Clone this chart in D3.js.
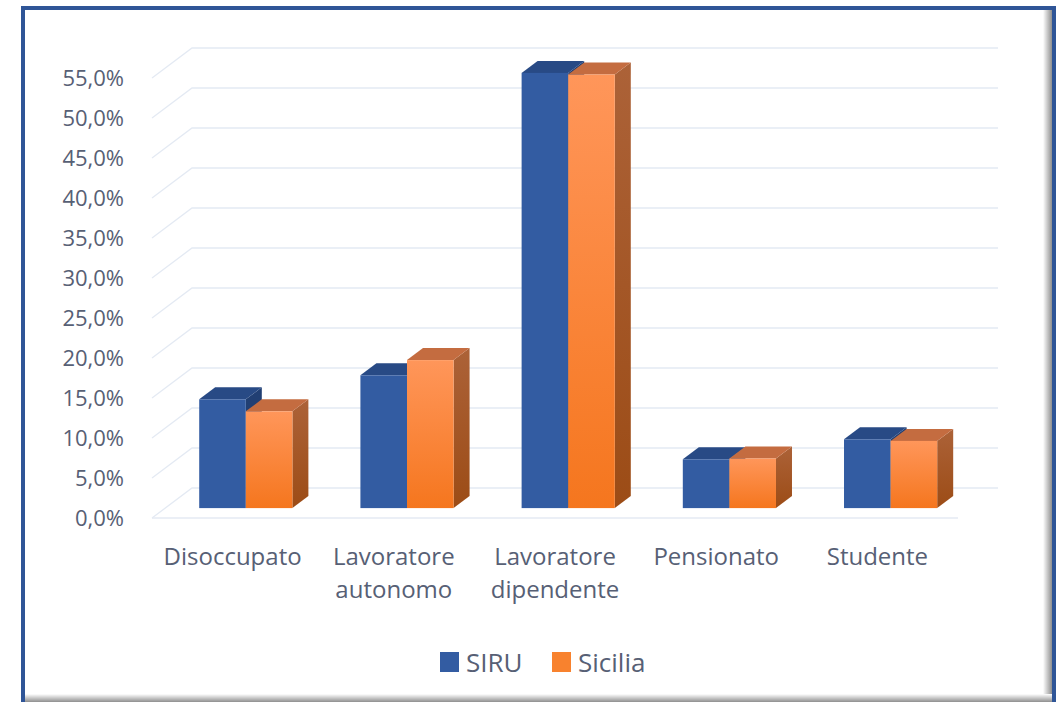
<!DOCTYPE html>
<html>
<head>
<meta charset="utf-8">
<script src="https://cdn.jsdelivr.net/npm/d3@7"></script>
<style>
  html, body { margin: 0; padding: 0; background: #fff; }
  svg { display: block; }
  text { font-family: "Open Sans", sans-serif; fill: #576075; }
</style>
</head>
<body>
<div class="chart-wrapper"></div>
<script>
// categories and series values (percent)
const categories = [['Disoccupato'], ['Lavoratore', 'autonomo'], ['Lavoratore', 'dipendente'], ['Pensionato'], ['Studente']];
const seriesNames = ['SIRU', 'Sicilia'];
const siruValues = [13.6, 16.6, 54.4, 6.1, 8.6];
const siciliaValues = [12.1, 18.5, 54.2, 6.2, 8.4];
const yTicks = [0, 5, 10, 15, 20, 25, 30, 35, 40, 45, 50, 55];

const width = 1056, height = 702;

// depth projection: full depth moves right and up
const depthX = 40, depthY = -30;
const barFront = 0.33, barBack = 0.73;

const it = d3.formatLocale({decimal: ',', thousands: '.', grouping: [3], currency: ['€', '']});
const fmt = it.format('.1f');

const svg = d3.select('.chart-wrapper')
    .append('svg')
    .attr('width', width)
    .attr('height', height);

const defs = svg.append('defs');
const gFront = defs.append('linearGradient').attr('id', 'sicFront').attr('x1', 0).attr('y1', 0).attr('x2', 0).attr('y2', 1);
gFront.append('stop').attr('offset', '0%').attr('stop-color', '#FF965A');
gFront.append('stop').attr('offset', '100%').attr('stop-color', '#F5761E');
const gSide = defs.append('linearGradient').attr('id', 'sicSide').attr('x1', 0).attr('y1', 0).attr('x2', 0).attr('y2', 1);
gSide.append('stop').attr('offset', '0%').attr('stop-color', '#AC6238');
gSide.append('stop').attr('offset', '100%').attr('stop-color', '#9C4C16');
const gShadowR = defs.append('linearGradient').attr('id', 'shR').attr('x1', 0).attr('x2', 1);
gShadowR.append('stop').attr('offset', '0%').attr('stop-color', '#fff');
gShadowR.append('stop').attr('offset', '100%').attr('stop-color', '#8f8f8f');
const gShadowB = defs.append('linearGradient').attr('id', 'shB').attr('x1', 0).attr('y1', 0).attr('x2', 0).attr('y2', 1);
gShadowB.append('stop').attr('offset', '0%').attr('stop-color', '#fff');
gShadowB.append('stop').attr('offset', '100%').attr('stop-color', '#8f8f8f');

// frame shadow and border
svg.append('rect').attr('x', 1043).attr('y', 10).attr('width', 9).attr('height', 692).attr('fill', 'url(#shR)');
svg.append('rect').attr('x', 25).attr('y', 694).attr('width', 1027).attr('height', 8).attr('fill', 'url(#shB)');
svg.append('rect')
    .attr('x', 23).attr('y', 8)
    .attr('width', 1031).attr('height', 704)
    .attr('fill', 'none')
    .attr('stroke', '#2F5597')
    .attr('stroke-width', 4);

// scales
const x = d3.scaleBand()
    .domain(d3.range(categories.length))
    .range([152, 958]);

const x1 = d3.scaleBand()
    .domain(seriesNames)
    .range([0, x.bandwidth()])
    .paddingOuter(0.73);

const y = d3.scaleLinear()
    .domain([0, 55])
    .range([518, 78]);

function pt(px, v, d) {
    return [px + depthX * d, y(v) + depthY * d];
}

// gridlines: diagonal on the left wall then horizontal on the back wall
const grid = svg.append('g');
yTicks.forEach(t => {
    const a = pt(152, t, 0), b = pt(152, t, 1), c = pt(958, t, 1);
    grid.append('path')
        .attr('d', d3.line()([a, b, c]))
        .attr('fill', 'none')
        .attr('stroke', '#E4EAF3')
        .attr('stroke-width', 1.3);
});
grid.append('path')
    .attr('d', d3.line()([pt(152, 0, 0), pt(958, 0, 0)]))
    .attr('fill', 'none')
    .attr('stroke', '#E4EAF3')
    .attr('stroke-width', 1.3);

// y tick labels
svg.append('g').selectAll('text')
    .data(yTicks)
    .join('text')
    .attr('x', 124)
    .attr('y', d => y(d))
    .attr('dy', '0.35em')
    .attr('text-anchor', 'end')
    .style('font-size', '22px')
    .text(d => fmt(d) + '%');

// bars
const colors = {
    SIRU: {front: '#335CA2', top: '#284A85', side: '#213F73'},
    Sicilia: {front: 'url(#sicFront)', top: '#C46C40', side: 'url(#sicSide)'}
};

const bars = svg.append('g');
categories.forEach((cat, i) => {
    const vals = {SIRU: siruValues[i], Sicilia: siciliaValues[i]};
    seriesNames.forEach(s => {
        const v = vals[s];
        const left = x(i) + x1(s), right = left + x1.bandwidth();
        const c = colors[s];
        const fl = pt(left, 0, barFront), ft = pt(left, v, barFront), fr = pt(right, v, barFront), frb = pt(right, 0, barFront);
        const bl = pt(left, v, barBack), br = pt(right, v, barBack), brb = pt(right, 0, barBack);
        // side
        bars.append('path')
            .attr('d', d3.line()([frb, fr, br, brb]) + 'Z')
            .attr('fill', c.side);
        // top
        bars.append('path')
            .attr('d', d3.line()([ft, fr, br, bl]) + 'Z')
            .attr('fill', c.top);
        // front
        bars.append('rect')
            .attr('x', fl[0]).attr('y', ft[1])
            .attr('width', right - left)
            .attr('height', fl[1] - ft[1])
            .attr('fill', c.front);
    });
});

// category labels
const catG = svg.append('g');
categories.forEach((lines, i) => {
    const t = catG.append('text')
        .attr('x', x(i) + x.bandwidth() / 2)
        .attr('y', 565)
        .attr('text-anchor', 'middle')
        .style('font-size', '24px');
    lines.forEach((ln, j) => {
        t.append('tspan')
            .attr('x', x(i) + x.bandwidth() / 2)
            .attr('dy', j === 0 ? 0 : 33)
            .text(ln);
    });
});

// legend
const legend = svg.append('g');
const legendItems = [
    {name: 'SIRU', color: '#335CA2', x: 440},
    {name: 'Sicilia', color: '#F8822E', x: 552}
];
legendItems.forEach(d => {
    legend.append('rect')
        .attr('x', d.x).attr('y', 652)
        .attr('width', 19).attr('height', 20)
        .attr('fill', d.color);
    legend.append('text')
        .attr('x', d.x + 26)
        .attr('y', 672)
        .style('font-size', '26px')
        .text(d.name);
});
</script>
</body>
</html>
